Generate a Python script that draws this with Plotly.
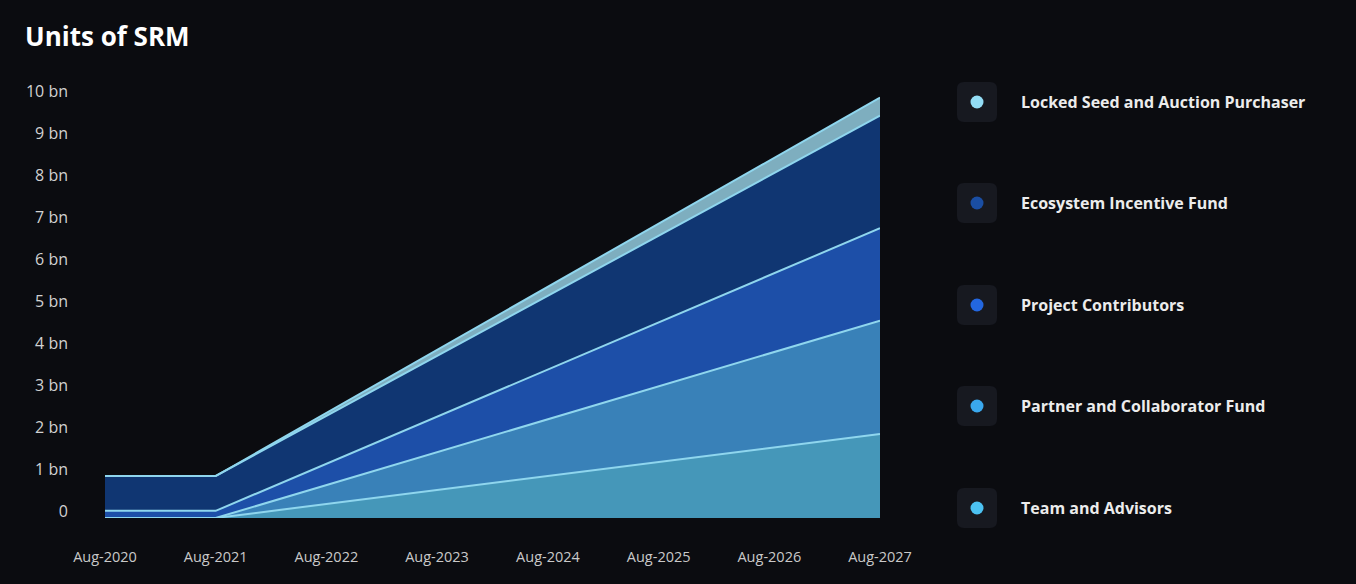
import plotly.graph_objects as go

# ---- data (billions of SRM, stacked series) ----
dates = ["2020-08-01", "2021-08-01", "2027-08-01"]
team_advisors = [0.0, 0.0, 2.0]
partner_fund = [0.0, 0.0, 2.7]
project_contrib = [0.17, 0.17, 2.2]
ecosystem_fund = [0.83, 0.83, 2.68]
locked_seed = [0.0, 0.0, 0.43]

tick_dates = ["2020-08-01", "2021-08-01", "2022-08-01", "2023-08-01",
              "2024-08-01", "2025-08-01", "2026-08-01", "2027-08-01"]
tick_text = ["Aug-2020", "Aug-2021", "Aug-2022", "Aug-2023",
             "Aug-2024", "Aug-2025", "Aug-2026", "Aug-2027"]
y_ticks = [0, 1, 2, 3, 4, 5, 6, 7, 8, 9, 10]
y_text = ["0", "1 bn", "2 bn", "3 bn", "4 bn", "5 bn", "6 bn", "7 bn", "8 bn", "9 bn", "10 bn"]

legend_names = ["Locked Seed and Auction Purchaser", "Ecosystem Incentive Fund",
                "Project Contributors", "Partner and Collaborator Fund", "Team and Advisors"]
legend_dots = ["#93ddf5", "#1a4ea3", "#2367e0", "#3aa8ee", "#4cc2f2"]

# ---- layout geometry ----
W, H = 1356, 584
L, R = 105, 880
T, B = 77, 518
BG = "#0b0c10"
LINE = "#8fd6ee"
FONT = "Open Sans"

series = [
    ("Team and Advisors", team_advisors, "#4597b9"),
    ("Partner and Collaborator Fund", partner_fund, "#3981b8"),
    ("Project Contributors", project_contrib, "#1d4fa8"),
    ("Ecosystem Incentive Fund", ecosystem_fund, "#103672"),
    ("Locked Seed and Auction Purchaser", locked_seed, "#7eaebf"),
]

fig = go.Figure()
for name, vals, col in series:
    fig.add_trace(go.Scatter(
        x=dates, y=vals, name=name, mode="lines", stackgroup="one",
        fillcolor=col, line=dict(color=LINE, width=2), showlegend=False,
    ))

def px_x(px):
    return (px - L) / (R - L)

def px_y(py):
    return (B - py) / (B - T)

shapes = []
annotations = []
legend_y = [102, 203, 305, 406, 508]
rr = 7
box = 20
path = (f"M {-box+rr},{-box} L {box-rr},{-box} Q {box},{-box} {box},{-box+rr} "
        f"L {box},{box-rr} Q {box},{box} {box-rr},{box} L {-box+rr},{box} "
        f"Q {-box},{box} {-box},{box-rr} L {-box},{-box+rr} Q {-box},{-box} {-box+rr},{-box} Z")
for name, dot, py in zip(legend_names, legend_dots, legend_y):
    shapes.append(dict(type="path", xref="paper", yref="paper", xsizemode="pixel",
                       ysizemode="pixel", xanchor=px_x(977), yanchor=px_y(py),
                       path=path, fillcolor="#171920", line=dict(width=0), layer="above"))
    shapes.append(dict(type="circle", xref="paper", yref="paper", xsizemode="pixel",
                       ysizemode="pixel", xanchor=px_x(977), yanchor=px_y(py),
                       x0=-6.5, x1=6.5, y0=-6.5, y1=6.5,
                       fillcolor=dot, line=dict(width=0), layer="above"))
    annotations.append(dict(x=px_x(1019), y=px_y(py), xref="paper", yref="paper",
                            xanchor="left", yanchor="middle", showarrow=False,
                            text=f"<b>{name}</b>",
                            font=dict(family=FONT, size=16, color="#ececec")))

fig.update_layout(
    width=W, height=H,
    margin=dict(l=L, r=W - R, t=T, b=H - B, pad=0),
    paper_bgcolor=BG, plot_bgcolor=BG,
    title=dict(text="<b>Units of SRM</b>", x=25 / W, xanchor="left",
               y=1 - 37 / H, yanchor="middle",
               font=dict(family=FONT, size=26, color="#ffffff")),
    shapes=shapes, annotations=annotations,
    hovermode=False,
)
fig.update_xaxes(
    range=[dates[0], dates[-1]], tickvals=tick_dates, ticktext=tick_text,
    showgrid=False, zeroline=False, showline=False, ticks="",
    ticklabelstandoff=28,
    tickfont=dict(family=FONT, size=14.5, color="#c9c9c9"),
)
fig.update_yaxes(
    range=[0, 10.5], tickvals=y_ticks, ticktext=y_text,
    showgrid=False, zeroline=False, showline=False, ticks="",
    ticklabelstandoff=36, ticklabelshift=-7,
    tickfont=dict(family=FONT, size=16, color="#d2d2d2"),
)

fig.write_html(
    "out.html",
    config={"displayModeBar": False, "staticPlot": True},
    post_script="document.body.style.margin='0';document.body.style.background='#0b0c10';",
)
